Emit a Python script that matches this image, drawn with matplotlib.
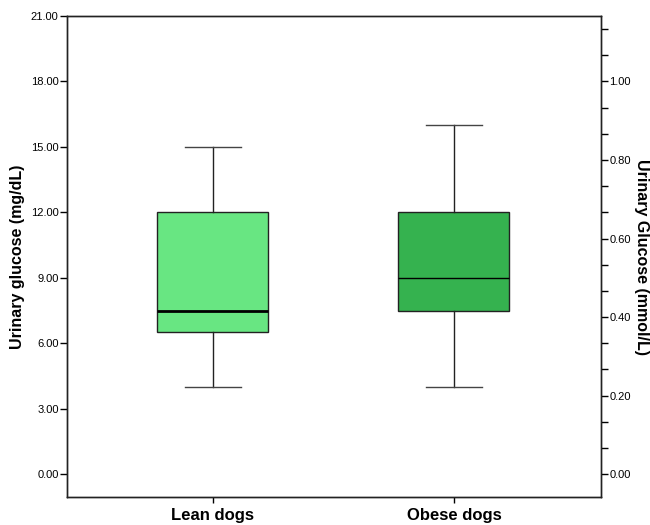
import matplotlib
matplotlib.use("Agg")
import matplotlib.pyplot as plt
from matplotlib.ticker import MultipleLocator, FormatStrFormatter

plt.rcParams['font.family'] = ['Liberation Sans', 'DejaVu Sans']

# box plot summary values (mg/dL)
groups = ['Lean dogs', 'Obese dogs']
whislo = [4.0, 4.0]
q1 = [6.5, 7.5]
med = [7.5, 9.0]
q3 = [12.0, 12.0]
whishi = [15.0, 16.0]
colors = ['#68E682', '#35B24F']
median_lw = [2.0, 1.0]

MG_PER_MMOL = 18.0

fig = plt.figure(figsize=(6.5, 5.25), dpi=100)
ax = fig.add_axes([0.103, 0.0533, 0.8216, 0.9162])

stats = []
for i in range(len(groups)):
    stats.append(dict(label=groups[i], whislo=whislo[i], q1=q1[i], med=med[i],
                      q3=q3[i], whishi=whishi[i], fliers=[]))

bp = ax.bxp(stats, positions=[1, 2], widths=0.46, patch_artist=True,
            showfliers=False,
            boxprops=dict(edgecolor='#222222', linewidth=1.0),
            whiskerprops=dict(color='#222222', linewidth=1.0),
            capprops=dict(color='#444444', linewidth=1.0),
            medianprops=dict(color='black', linewidth=1.0))
ax.set_xlim(0.395, 2.61)
for patch, c in zip(bp['boxes'], colors):
    patch.set_facecolor(c)
for capline in bp['caps']:
    x = capline.get_xdata()
    mid = (x[0] + x[1]) / 2
    capline.set_xdata([mid - 0.115, mid + 0.115])
for m, lw in zip(bp['medians'], median_lw):
    m.set_linewidth(lw)

ax.set_ylim(-1.05, 21.0)
ax.yaxis.set_major_locator(MultipleLocator(3))
ax.yaxis.set_major_formatter(FormatStrFormatter('%.2f'))
ax.tick_params(axis='y', labelsize=8, length=5, width=1, pad=1)
ax.tick_params(axis='x', labelsize=12, length=4, width=1, pad=4)
for lab in ax.get_xticklabels():
    lab.set_fontweight('bold')
ax.set_ylabel('Urinary glucose (mg/dL)', fontsize=11.5, fontweight='bold', labelpad=4)

ax2 = ax.twinx()
lo, hi = ax.get_ylim()
ax2.set_ylim(lo / MG_PER_MMOL, hi / MG_PER_MMOL)
ax2.yaxis.set_major_locator(MultipleLocator(0.2))
ax2.yaxis.set_minor_locator(MultipleLocator(0.2 / 3))
ax2.yaxis.set_major_formatter(FormatStrFormatter('%.2f'))
ax2.tick_params(axis='y', which='major', labelsize=8, length=5, width=1, pad=1)
ax2.tick_params(axis='y', which='minor', length=5, width=1)
ax2.set_ylabel('Urinary Glucose (mmol/L)', fontsize=11.5, fontweight='bold',
               rotation=270, labelpad=13)

for a in (ax, ax2):
    for s in a.spines.values():
        s.set_linewidth(1.0)
        s.set_color('#222222')

fig.savefig('out.png', dpi=100)
